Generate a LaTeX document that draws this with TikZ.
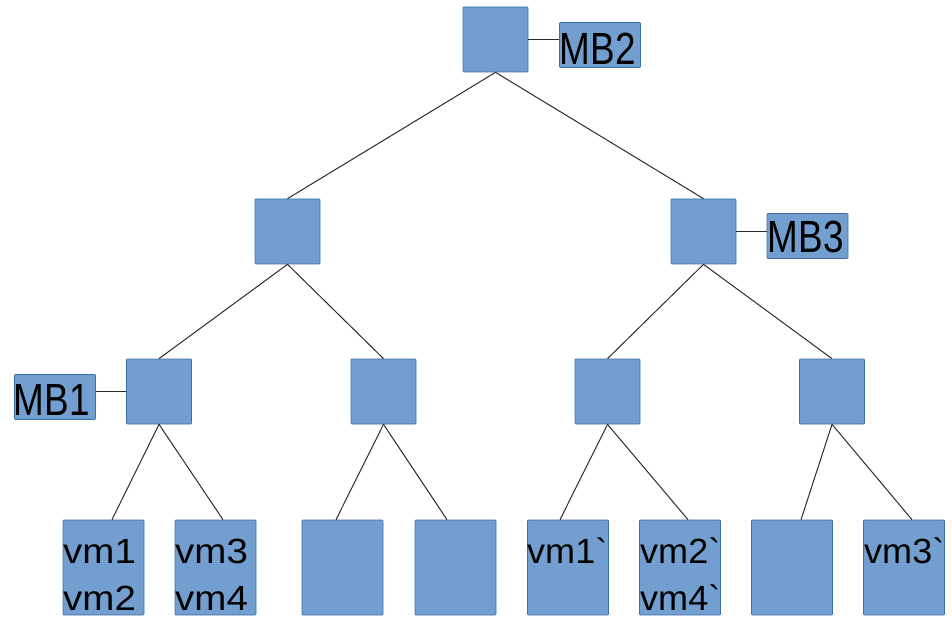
\documentclass[tikz,border=0pt]{standalone}
\usepackage{fontspec}
\setmainfont{Liberation Sans}[Ligatures=TeXOff]
\usepackage{graphicx}
\definecolor{boxfill}{HTML}{729FCF}
\definecolor{boxline}{HTML}{3F6FAA}
\definecolor{edgecol}{HTML}{2B2B2B}
\begin{document}
\begin{tikzpicture}[x=1pt,y=-1pt,
 box/.style={draw=boxline, fill=boxfill, line width=0.7pt, inner sep=0pt, rounded corners=0.8pt},
 innerbox/.style={box, minimum width=65pt, minimum height=65pt},
 leafbox/.style={box, minimum width=81pt, minimum height=95pt},
 mbbox/.style={box, minimum width=81pt, minimum height=45pt},
 edge/.style={draw=edgecol, line width=1pt},
 vmtxt/.style={anchor=base west, inner sep=0pt, font=\fontsize{35}{42}\selectfont},
 mbtxt/.style={anchor=base west, inner sep=0pt, font=\fontsize{41}{48}\selectfont}]
\useasboundingbox (0,0) rectangle (952,617);

% internal nodes
\node[innerbox] (root) at (495.5,39.5) {};
\node[innerbox] (a) at (287.5,231.5) {};
\node[innerbox] (b) at (703.5,231.5) {};
\node[innerbox] (aa) at (159,391.5) {};
\node[innerbox] (ab) at (383.5,391.5) {};
\node[innerbox] (ba) at (607.5,391.5) {};
\node[innerbox] (bb) at (832,391.5) {};

% leaves
\node[leafbox] (l1) at (103.5,567.5) {};
\node[leafbox] (l2) at (215.5,567.5) {};
\node[leafbox] (l3) at (342.5,567.5) {};
\node[leafbox] (l4) at (455.5,567.5) {};
\node[leafbox] (l5) at (568,567.5) {};
\node[leafbox] (l6) at (680,567.5) {};
\node[leafbox] (l7) at (792,567.5) {};
\node[leafbox] (l8) at (904,567.5) {};

% MB labels
\node[mbbox] (mb2) at (600,45) {};
\node[mbbox] (mb3) at (807.5,236) {};
\node[mbbox] (mb1) at (55,397) {};
\node[mbtxt] (mb2t) at (559.5,65) {\scalebox{0.9}[1.1]{MB2}};
\node[mbtxt] (mb3t) at (767.5,253) {\scalebox{0.9}[1.1]{MB3}};
\node[mbtxt] (mb1t) at (13.5,415) {\scalebox{0.9}[1.1]{MB1}};

% leaf texts
\node[vmtxt] (t1) at (63,563) {\scalebox{1.1}[1]{vm1}};
\node[vmtxt] (t2) at (63,610) {\scalebox{1.1}[1]{vm2}};
\node[vmtxt] (t3) at (175,563) {\scalebox{1.1}[1]{vm3}};
\node[vmtxt] (t4) at (175,610) {\scalebox{1.1}[1]{vm4}};
\node[vmtxt] (t5) at (527,563) {\scalebox{1.03}[1]{vm1`}};
\node[vmtxt] (t6) at (640,563) {\scalebox{1.03}[1]{vm2`}};
\node[vmtxt] (t7) at (640,610) {\scalebox{1.03}[1]{vm4`}};
\node[vmtxt] (t8) at (864,563) {\scalebox{1.03}[1]{vm3`}};

% tree edges
\draw[edge] (root.south) -- (a.north);
\draw[edge] (root.south) -- (b.north);
\draw[edge] (a.south) -- (aa.north);
\draw[edge] (a.south) -- (ab.north);
\draw[edge] (b.south) -- (ba.north);
\draw[edge] (b.south) -- (bb.north);
\draw[edge] (aa.south) -- ([xshift=8.5pt]l1.north);
\draw[edge] (aa.south) -- ([xshift=7.5pt]l2.north);
\draw[edge] (ab.south) -- ([xshift=-6.5pt]l3.north);
\draw[edge] (ab.south) -- ([xshift=-8.5pt]l4.north);
\draw[edge] (ba.south) -- ([xshift=-8pt]l5.north);
\draw[edge] (ba.south) -- ([xshift=8pt]l6.north);
\draw[edge] (bb.south) -- ([xshift=9pt]l7.north);
\draw[edge] (bb.south) -- ([xshift=8pt]l8.north);

% MB connectors
\draw[edge] (root.east) -- (root.east -| mb2.west);
\draw[edge] (b.east) -- (b.east -| mb3.west);
\draw[edge] (aa.west) -- (aa.west -| mb1.east);
\end{tikzpicture}
\end{document}
